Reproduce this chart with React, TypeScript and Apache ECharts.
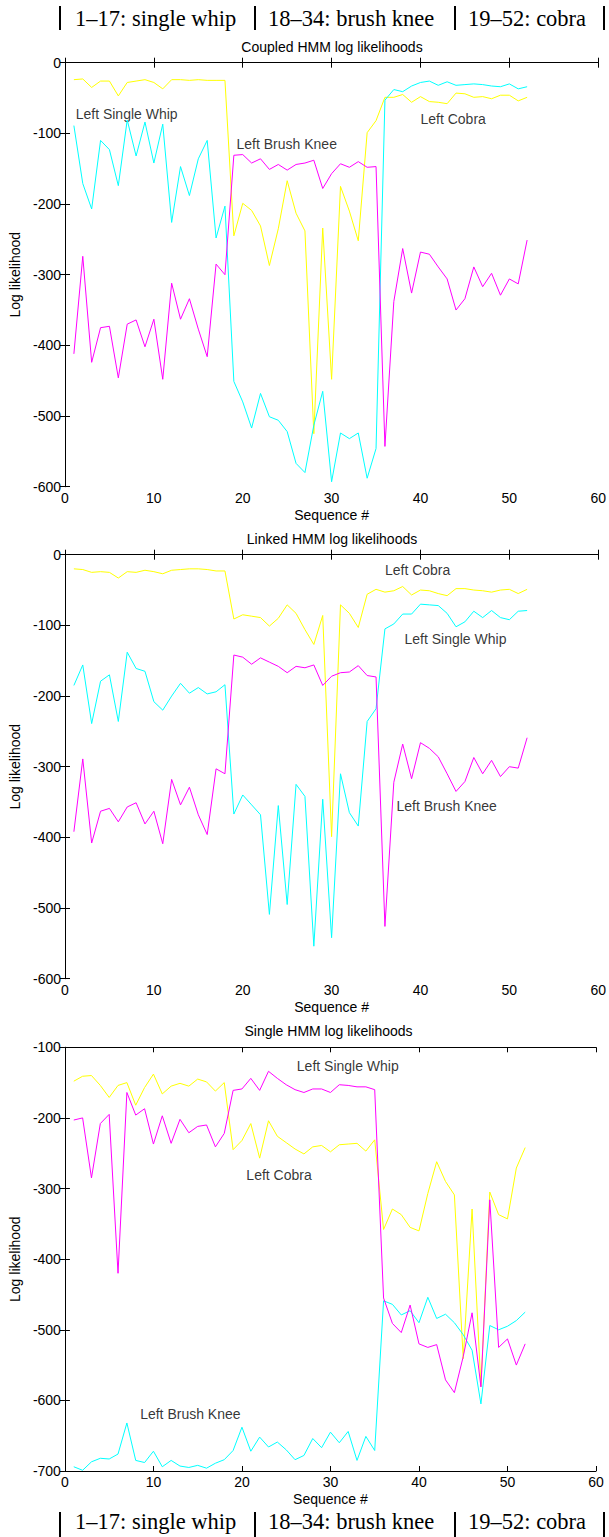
import React, { useEffect, useRef } from "react";
import * as echarts from "echarts";

// Sequence numbers (x categories)
const sequence = Array.from({ length: 52 }, (_, i) => i + 1);

// Panel 1: Coupled HMM
const coupledYellow = [-24, -23, -35, -26, -26, -47, -28, -26, -24, -28, -37, -24, -24, -25, -24, -25, -25, -25,
  -245, -199, -209, -231, -287, -235, -167, -213, -238, -525, -234, -448, -175, -210, -252, -99, -82,
  -49, -49, -45, -56, -48, -55, -56, -58, -43, -44, -49, -48, -51, -46, -46, -54, -49];
const coupledCyan = [-89, -171, -207, -110, -123, -174, -81, -132, -84, -142, -87, -226, -147, -188, -136, -110, -248, -203,
  -451, -480, -517, -468, -501, -506, -522, -567, -580, -513, -465, -593, -524, -532, -524, -588, -546,
  -53, -38, -41, -33, -28, -26, -32, -27, -32, -31, -30, -31, -33, -34, -30, -37, -34];
const coupledMagenta = [-412, -274, -424, -375, -373, -446, -370, -364, -402, -363, -448, -312, -363, -334, -377, -416, -285, -300,
  -131, -130, -142, -136, -151, -144, -152, -144, -142, -138, -178, -157, -143, -148, -140, -148, -147,
  -543, -338, -263, -326, -268, -271, -289, -306, -350, -334, -289, -317, -298, -329, -306, -313, -251];

// Panel 2: Linked HMM
const linkedYellow = [-20, -21, -25, -24, -25, -33, -24, -25, -22, -24, -27, -22, -21, -20, -20, -21, -23, -23,
  -91, -85, -87, -89, -101, -90, -71, -83, -106, -127, -86, -399, -71, -83, -103, -56, -49,
  -53, -51, -45, -57, -50, -51, -55, -58, -48, -48, -50, -51, -53, -50, -49, -55, -49];
const linkedCyan = [-185, -156, -239, -179, -170, -236, -138, -161, -165, -208, -220, -200, -182, -196, -188, -197, -194, -184,
  -367, -340, -354, -368, -509, -355, -495, -325, -342, -554, -346, -542, -310, -365, -384, -236, -218,
  -105, -98, -84, -84, -70, -71, -72, -83, -102, -95, -80, -89, -79, -89, -92, -80, -79];
const linkedMagenta = [-392, -289, -408, -363, -359, -378, -357, -351, -381, -363, -409, -318, -354, -329, -368, -396, -303, -310,
  -142, -145, -155, -146, -152, -158, -167, -158, -160, -156, -185, -172, -167, -166, -157, -171, -173,
  -526, -322, -268, -317, -266, -274, -286, -310, -335, -321, -287, -310, -291, -314, -300, -302, -259];

// Panel 3: Single HMM
const singleYellow = [-148, -141, -140, -154, -171, -154, -150, -182, -157, -138, -166, -155, -151, -155, -145, -149, -162, -150,
  -245, -232, -208, -257, -204, -226, -235, -244, -251, -241, -239, -248, -238, -237, -236, -247, -231,
  -358, -329, -337, -355, -360, -307, -262, -290, -309, -541, -329, -580, -305, -337, -343, -271, -242];
const singleCyan = [-694, -699, -687, -682, -683, -676, -632, -685, -688, -672, -694, -685, -693, -695, -692, -696, -689, -684,
  -671, -638, -672, -652, -666, -659, -670, -684, -678, -654, -667, -645, -660, -644, -685, -651, -671,
  -459, -464, -479, -473, -490, -454, -484, -478, -490, -507, -529, -605, -494, -500, -495, -487, -475];
const singleMagenta = [-203, -200, -285, -208, -195, -420, -164, -196, -187, -237, -197, -236, -202, -221, -212, -210, -241, -222,
  -161, -159, -144, -161, -134, -144, -153, -160, -164, -159, -159, -164, -153, -154, -156, -156, -160,
  -455, -491, -504, -465, -520, -525, -521, -571, -589, -538, -476, -581, -316, -525, -513, -550, -520];

const panelTitles = ["Coupled HMM log likelihoods", "Linked HMM log likelihoods", "Single HMM log likelihoods"];
const yRanges = [[-600, 0], [-600, 0], [-700, -100]];

// Annotation labels: [text, sequence, log likelihood]
const coupledNotes: [string, number, number][] = [
  ["Left Single Whip", 1.2, -73], ["Left Brush Knee", 19.3, -115], ["Left Cobra", 40, -79]];
const linkedNotes: [string, number, number][] = [
  ["Left Cobra", 36, -22], ["Left Single Whip", 38.2, -119], ["Left Brush Knee", 37.3, -355]];
const singleNotes: [string, number, number][] = [
  ["Left Single Whip", 26.2, -126], ["Left Cobra", 20.5, -281], ["Left Brush Knee", 8.5, -619]];

const headerParts = ["1\u201317: single whip", "18\u201334: brush knee", "19\u201352: cobra"];

const YELLOW = "#ffff00";
const CYAN = "#00ffff";
const MAGENTA = "#ff00ff";
const SANS = "Liberation Sans, Arial, sans-serif";
const SERIF = "Liberation Serif, serif";

export default function App() {
  const ref = useRef<HTMLDivElement>(null);
  useEffect(() => {
    if (!ref.current) return;
    const chart = echarts.init(ref.current, null, { renderer: "svg" });

    const grids = [
      { left: 65, top: 62.7, width: 534, height: 424 },
      { left: 65, top: 554.7, width: 534, height: 424 },
      { left: 61, top: 1047.3, width: 535, height: 423.7 },
    ];

    const axisLine = { show: true, lineStyle: { color: "#000", width: 1 } };
    const tick = { show: true, inside: true, length: 5, lineStyle: { color: "#000", width: 1 } };
    const xAxes: any[] = [];
    const yAxes: any[] = [];
    grids.forEach((g, i) => {
      const base = {
        type: "value",
        gridIndex: i,
        min: 0,
        max: 60,
        interval: 10,
        axisLine,
        axisTick: tick,
        splitLine: { show: false },
      };
      xAxes.push({
        ...base,
        position: "bottom",
        name: "Sequence #",
        nameLocation: "middle",
        nameGap: 21,
        nameTextStyle: { fontFamily: SANS, fontSize: 14, color: "#000" },
        axisLabel: { show: true, margin: 4, fontFamily: SANS, fontSize: 14, color: "#000" },
      });
      xAxes.push({ ...base, position: "top", axisLabel: { show: false } });
      const ybase = {
        type: "value",
        gridIndex: i,
        min: yRanges[i][0],
        max: yRanges[i][1],
        interval: 100,
        axisLine,
        axisTick: tick,
        splitLine: { show: false },
      };
      yAxes.push({
        ...ybase,
        position: "left",
        name: "Log likelihood",
        nameLocation: "middle",
        nameGap: i === 2 ? 34 : 36,
        nameTextStyle: { fontFamily: SANS, fontSize: 14, color: "#000" },
        axisLabel: { show: true, margin: 4, fontFamily: SANS, fontSize: 14, color: "#000" },
      });
      yAxes.push({ ...ybase, position: "right", axisLabel: { show: false } });
    });

    const panels = [
      [coupledYellow, coupledCyan, coupledMagenta, coupledNotes],
      [linkedYellow, linkedCyan, linkedMagenta, linkedNotes],
      [singleYellow, singleCyan, singleMagenta, singleNotes],
    ] as any[];

    const series: any[] = [];
    panels.forEach((p, i) => {
      const cols = [YELLOW, CYAN, MAGENTA];
      for (let k = 0; k < 3; k++) {
        series.push({
          type: "line",
          xAxisIndex: i * 2,
          yAxisIndex: i * 2,
          data: (p[k] as number[]).map((v, j) => [sequence[j], v]),
          showSymbol: false,
          symbol: "none",
          silent: true,
          lineStyle: { width: 1, color: cols[k] },
          itemStyle: { color: cols[k] },
        });
      }
      series.push({
        type: "scatter",
        xAxisIndex: i * 2,
        yAxisIndex: i * 2,
        symbolSize: 0,
        silent: true,
        data: (p[3] as [string, number, number][]).map((n) => ({ name: n[0], value: [n[1], n[2]] })),
        label: {
          show: true,
          position: "right",
          distance: 0,
          formatter: "{b}",
          fontFamily: SANS,
          fontSize: 14,
          color: "#000",
        },
      });
    });

    const graphics: any[] = [];
    const titleY = [47, 539, 1031];
    panelTitles.forEach((t, i) => {
      const g = grids[i];
      graphics.push({
        type: "text",
        x: g.left + g.width / 2,
        y: titleY[i],
        style: { text: t, fontFamily: SANS, fontSize: 14, fill: "#000", align: "center", verticalAlign: "middle" },
      });
    });
    const barXs = [60, 255, 455, 604];
    const textXs = [75, 268, 468];
    const bands = [
      { textY: 18, barTop: 6, barH: 24 },
      { textY: 1521, barTop: 1512, barH: 25 },
    ];
    bands.forEach((b) => {
      barXs.forEach((bx) => {
        graphics.push({ type: "rect", shape: { x: bx - 1, y: b.barTop, width: 2, height: b.barH }, style: { fill: "#000" } });
      });
      headerParts.forEach((t, k) => {
        graphics.push({
          type: "text",
          x: textXs[k],
          y: b.textY,
          style: { text: t, fontFamily: SERIF, fontSize: 22.5, fill: "#000", align: "left", verticalAlign: "middle" },
        });
      });
    });

    chart.setOption({
      animation: false,
      backgroundColor: "#fff",
      grid: grids,
      xAxis: xAxes,
      yAxis: yAxes,
      series,
      graphic: graphics,
    });
    return () => chart.dispose();
  }, []);

  return (
    <div
      ref={ref}
      style={{ position: "absolute", left: 0, top: 0, width: 609, height: 1537, background: "#fff" }}
    />
  );
}
